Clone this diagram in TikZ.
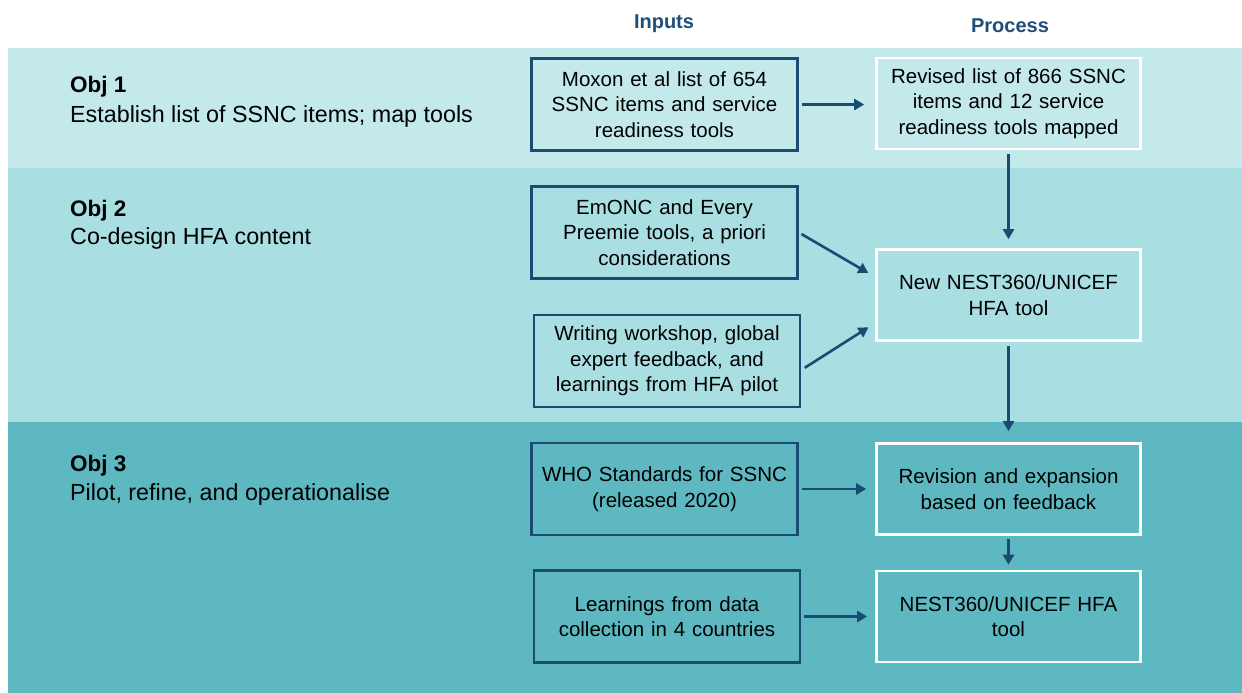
\documentclass[tikz,border=0pt]{standalone}
\usepackage{fontspec}
\setmainfont{Liberation Sans}
\usetikzlibrary{arrows.meta}
\definecolor{bandA}{HTML}{C4E9EB}
\definecolor{bandB}{HTML}{A9DEE2}
\definecolor{bandC}{HTML}{5DB8C1}
\definecolor{dblue}{HTML}{1A4B73}
\definecolor{hblue}{HTML}{1F4E79}
\tikzset{
  inbox/.style={draw=dblue, line width=2.6pt, minimum width=266pt, minimum height=92pt, text width=255pt, align=center, inner sep=0pt, font=\fontsize{20.5}{25.5}\selectfont},
  procbox/.style={draw=white, line width=2.6pt, minimum width=264pt, minimum height=91pt, text width=255pt, align=center, inner sep=0pt, font=\fontsize{20.5}{25.5}\selectfont},
  conn/.style={draw=dblue, line width=2.6pt, -{Triangle[length=10pt,width=11pt]}},
  hdr/.style={text=hblue, font=\bfseries\fontsize{20}{24}\selectfont, inner sep=0pt},
  objt/.style={anchor=west, inner sep=0pt, font=\bfseries\fontsize{22.5}{26}\selectfont},
  objd/.style={anchor=west, inner sep=0pt, font=\fontsize{23.3}{27}\selectfont}
}
\begin{document}
\begin{tikzpicture}[x=1pt,y=-1pt]
\useasboundingbox (0,0) rectangle (1242,693);
\fill[white] (0,0) rectangle (1242,693);
\fill[bandA] (8,48) rectangle (1242,168);
\fill[bandB] (8,168) rectangle (1242,422);
\fill[bandC] (8,422) rectangle (1242,693);

\node[hdr] (hin) at (664,24) {Inputs};
\node[hdr] (hpr) at (1010,26) {Process};

\node[objt] (o1) at (70,87) {Obj 1};
\node[objd] (d1) at (70,116) {Establish list of SSNC items; map tools};
\node[objt] (o2) at (70,211) {Obj 2};
\node[objd] (d2) at (70,238) {Co-design HFA content};
\node[objt] (o3) at (70,466) {Obj 3};
\node[objd] (d3) at (70,494) {Pilot, refine, and operationalise};

\node[inbox] (i1) at (664.5,104.5) {Moxon et al list of 654\\SSNC items and service\\readiness tools};
\node[procbox] (p1) at (1008.5,103.5) {Revised list of 866 SSNC\\items and 12 service\\readiness tools mapped};
\node[inbox] (i2) at (664.5,232.5) {EmONC and Every\\Preemie tools, a priori\\considerations};
\node[procbox] (p2) at (1008.5,295) {New NEST360/UNICEF\\HFA tool};
\node[inbox] (i3) at (667,361) {Writing workshop, global\\expert feedback, and\\learnings from HFA pilot};
\node[inbox] (i4) at (664.5,489) {WHO Standards for SSNC\\(released 2020)};
\node[procbox] (p3) at (1008.5,489) {Revision and expansion\\based on feedback};
\node[inbox] (i5) at (667,616.5) {Learnings from data\\collection in 4 countries};
\node[procbox] (p4) at (1008.5,616.5) {NEST360/UNICEF HFA\\tool};

\draw[conn, shorten <=3pt, shorten >=11pt] (i1.east) -- (i1.east -| p1.west);
\draw[conn, shorten <=4pt, shorten >=9pt] (p1.south) -- (p2.north);
\draw[conn, shorten <=3pt, shorten >=8pt] (i2.east) -- ([yshift=18pt]p2.west);
\draw[conn, shorten <=4pt, shorten >=8pt] ([yshift=-9pt]i3.east) -- ([yshift=-28pt]p2.west);
\draw[conn, shorten <=4pt, shorten >=11pt] (p2.south) -- (p3.north);
\draw[conn, shorten <=3pt, shorten >=9pt] (i4.east) -- (i4.east -| p3.west);
\draw[conn, shorten <=3pt, shorten >=5pt] (p3.south) -- (p4.north);
\draw[conn, shorten <=3pt, shorten >=8pt] (i5.east) -- (i5.east -| p4.west);
\end{tikzpicture}
\end{document}
